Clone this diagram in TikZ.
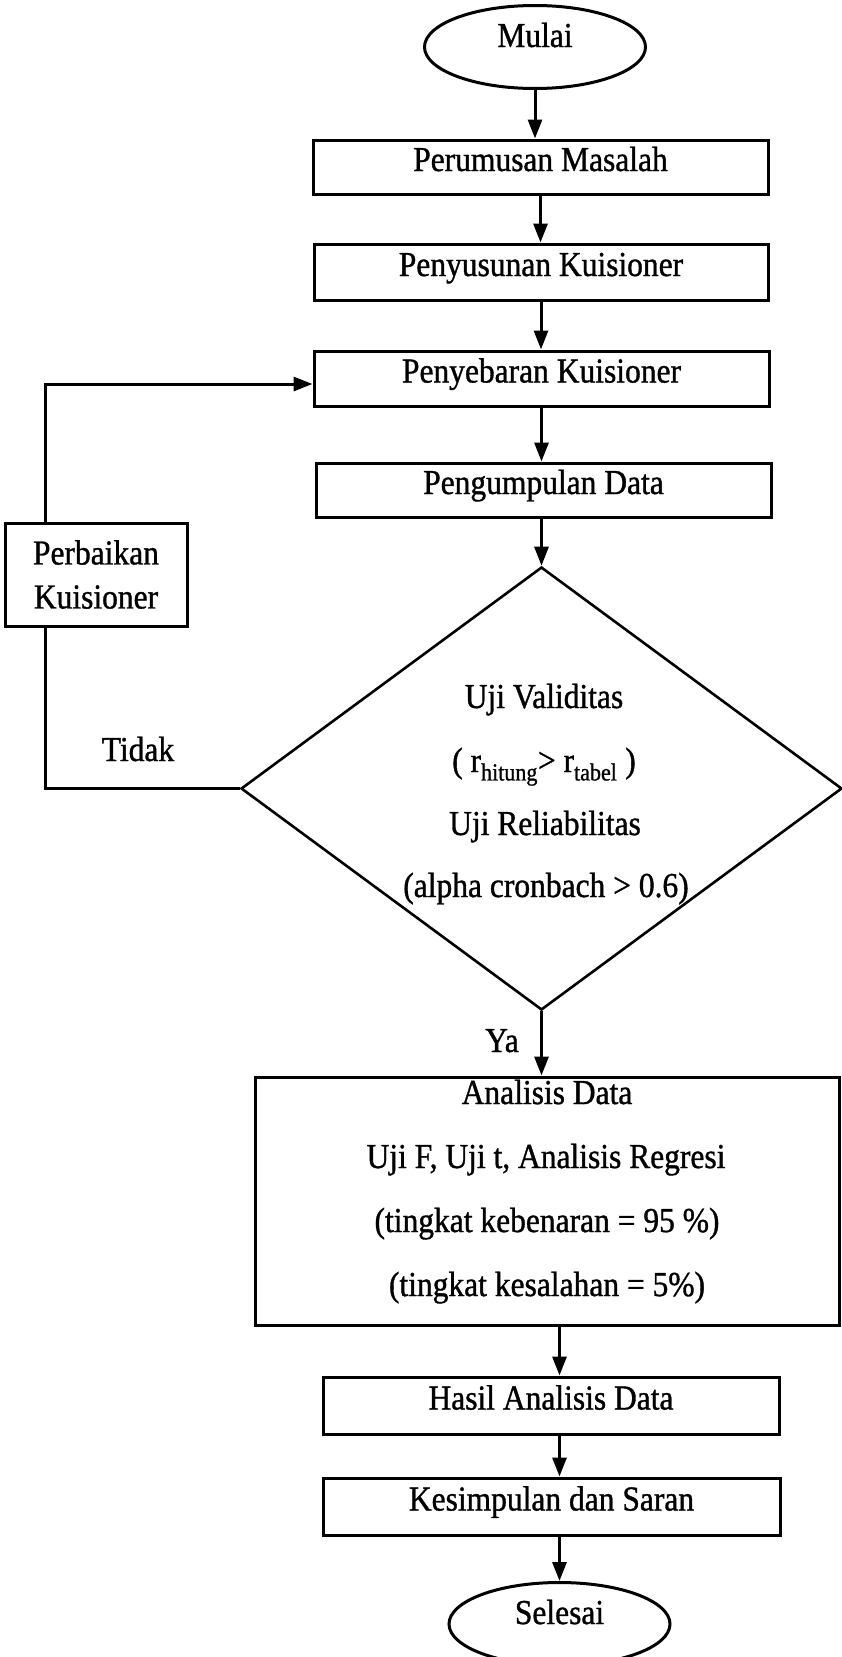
\documentclass[tikz,border=0pt]{standalone}
\usepackage{fontspec}
\setmainfont[FakeBold=1,FakeStretch=0.9]{Liberation Serif}
\usetikzlibrary{arrows.meta,shapes.geometric,calc}
\begin{document}
\begin{tikzpicture}[x=1pt,y=-1pt,
  lw/.style={line width=3pt},
  txt/.style={font=\fontsize{35}{40}\selectfont},
  box/.style={draw, rectangle, lw, inner sep=0pt, txt, text height=22pt, text depth=14pt},
  oval/.style={draw, ellipse, lw, inner sep=0pt, txt, minimum width=221pt, minimum height=83pt, text height=22pt, text depth=22pt},
  arr/.style={lw, -{Triangle[length=19pt,width=14pt]}},
  lbl/.style={txt, inner sep=0pt, anchor=base}]
\useasboundingbox (0,0) rectangle (842,1657);
\fill[white] (0,0) rectangle (842,1657);
\clip (0,0) rectangle (842,1657);

% main column
\node[oval] (mulai) at (535,47) {Mulai};
\node[box, minimum width=455pt, minimum height=54pt] (perum) at (540.5,167) {Perumusan Masalah};
\node[box, minimum width=454pt, minimum height=56pt] (penyu) at (541,272) {Penyusunan Kuisioner};
\node[box, minimum width=455pt, minimum height=55pt] (penye) at (541.5,378.5) {Penyebaran Kuisioner};
\node[box, minimum width=455pt, minimum height=54pt] (pengu) at (543.5,490) {Pengumpulan Data};

% decision
\node[draw, diamond, line width=2.6pt, inner sep=0pt, minimum width=601pt, minimum height=443pt] (dia) at (541.5,788.5) {};
\node[lbl] (v1) at (544,708) {Uji Validitas};
\node[lbl] (v2) at (544,772) {( r\textsubscript{hitung}> r\textsubscript{tabel} )};
\node[lbl] (v3) at (545,835) {Uji Reliabilitas};
\node[lbl] (v4) at (546,897) {(alpha cronbach > 0.6)};

% loop back
\node[draw, lw, inner sep=0pt, minimum width=182pt, minimum height=103pt, align=center, font=\fontsize{35}{44}\selectfont] (perb) at (96,574.5) {Perbaikan\\Kuisioner};
\node[lbl] (tidak) at (138,761) {Tidak};
\node[lbl] (ya) at (502,1052) {Ya};

% analysis
\node[draw, lw, inner sep=0pt, minimum width=584pt, minimum height=248pt] (anal) at (547,1201) {};
\node[lbl] (a1) at (547,1104) {Analisis Data};
\node[lbl] (a2) at (546,1168) {Uji F, Uji t, Analisis Regresi};
\node[lbl] (a3) at (547,1232) {(tingkat kebenaran = 95 \%)};
\node[lbl] (a4) at (547,1296) {(tingkat kesalahan = 5\%)};

\node[box, minimum width=456pt, minimum height=57pt] (hasil) at (551,1405.5) {Hasil Analisis Data};
\node[box, minimum width=457pt, minimum height=57pt] (kesimp) at (551.5,1506.5) {Kesimpulan dan Saran};
\node[oval] (sel) at (559.5,1624) {Selesai};

% connectors
\draw[arr] (mulai.south) -- (mulai.south |- perum.north);
\draw[arr] (perum.south) -- (perum.south |- penyu.north);
\draw[arr] (penyu.south) -- (penyu.south |- penye.north);
\draw[arr] (penye.south) -- (penye.south |- pengu.north);
\draw[arr] (pengu.south -| dia.north) -- (dia.north);
\draw[arr] (dia.south) -- (dia.south |- anal.north);
\draw[arr] (anal.south -| sel.north) -- (hasil.north -| sel.north);
\draw[arr] (hasil.south -| sel.north) -- (kesimp.north -| sel.north);
\draw[arr] (kesimp.south -| sel.north) -- (sel.north);

\coordinate (lb) at (45,792);
\coordinate (lt) at (45,384);
\draw[lw] (dia.west) -- (dia.west -| lb) -- (lb |- perb.south);
\draw[arr] (lb |- perb.north) -- (lt) -- (lt -| penye.west);
\end{tikzpicture}
\end{document}
